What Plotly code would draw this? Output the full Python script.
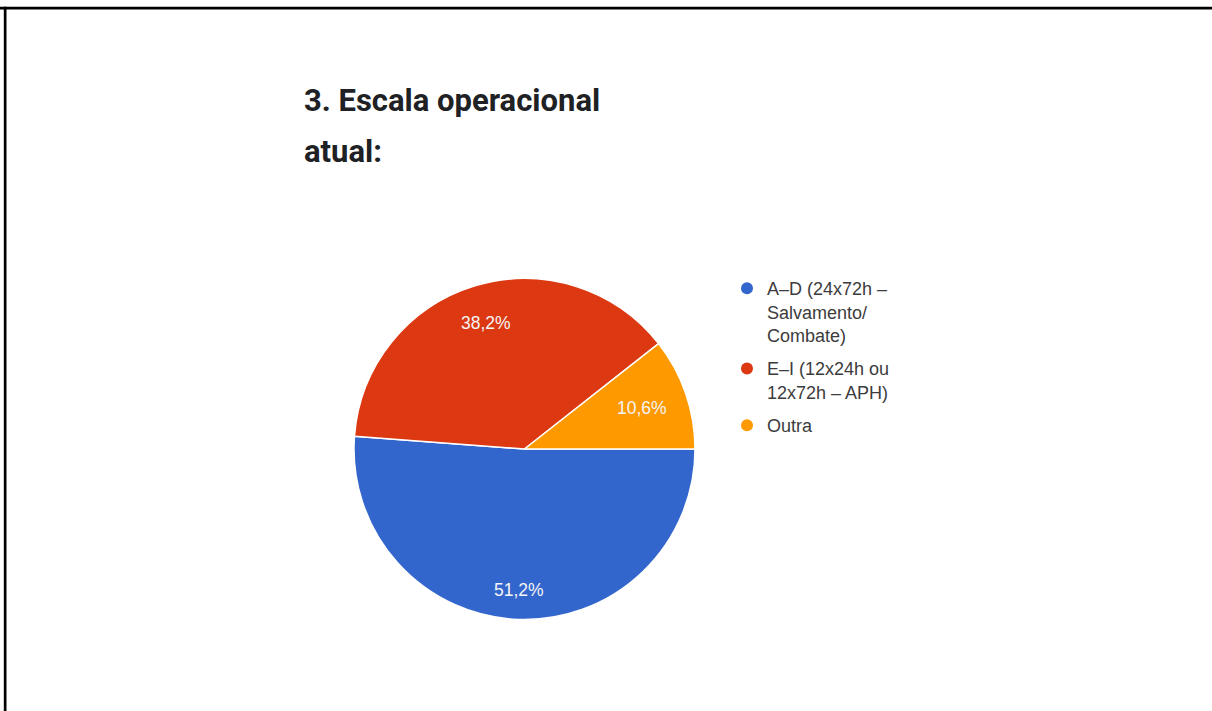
import math
import plotly.graph_objects as go

# Survey answers for question 3 (share of respondents, %)
categories = [
    "A–D (24x72h –<br>Salvamento/<br>Combate)",
    "E–I (12x24h ou<br>12x72h – APH)",
    "Outra",
]
shares = [51.2, 38.2, 10.6]
colors = ["#3366CC", "#DC3912", "#FF9900"]

title_lines = ["3. Escala operacional", "atual:"]

W, H = 1212, 711

# Pie geometry in pixels
CX, CY, R = 524.5, 449.0, 170.5
# Radial position of each percentage label, as a fraction of the radius
label_radius = [0.83, 0.77, 0.73]

fig = go.Figure()

fig.add_trace(go.Pie(
    labels=categories,
    values=shares,
    marker=dict(colors=colors, line=dict(color="white", width=1.5)),
    sort=False,
    direction="clockwise",
    rotation=90,
    textinfo="none",
    showlegend=False,
    hoverinfo="label+percent",
    domain=dict(x=[(CX - R) / W, (CX + R) / W],
                y=[1 - (CY + R) / H, 1 - (CY - R) / H]),
))

# Percentage labels placed along each slice's bisector
total = sum(shares)
start = 0.0  # degrees clockwise from 3 o'clock
for v, rf in zip(shares, label_radius):
    sweep = 360.0 * v / total
    mid = math.radians(start + sweep / 2)
    px = CX + rf * R * math.cos(mid)
    py = CY + rf * R * math.sin(mid)
    fig.add_annotation(
        x=px / W, y=1 - py / H, xref="paper", yref="paper",
        xanchor="center", yanchor="middle", showarrow=False,
        text=f"{100 * v / total:.1f}%".replace(".", ","),
        font=dict(family="Arial, Liberation Sans, sans-serif", size=17.5, color="#f4f4f4"),
    )
    start += sweep

# Legend entries with round markers
for name, col in zip(categories, colors):
    fig.add_trace(go.Scatter(
        x=[None], y=[None], mode="markers", name=name, legendgroup=name,
        marker=dict(symbol="circle", size=18, color=col),
        showlegend=True, hoverinfo="skip",
    ))

# Two-line heading
for i, line in enumerate(title_lines):
    fig.add_annotation(
        x=302 / W, y=1 - (101 + i * 50) / H, xref="paper", yref="paper",
        xanchor="left", yanchor="middle", showarrow=False,
        text=f"<b>{line}</b>",
        font=dict(family="Roboto, Arial, sans-serif", size=31, color="#202124"),
    )

# Frame bars along the top and left edges
fig.add_shape(type="rect", xref="paper", yref="paper",
              x0=0, x1=1, y0=1 - 9.5 / H, y1=1 - 6.8 / H,
              fillcolor="black", line=dict(width=0))
fig.add_shape(type="rect", xref="paper", yref="paper",
              x0=3.8 / W, x1=6.5 / W, y0=0, y1=1 - 6.8 / H,
              fillcolor="black", line=dict(width=0))

fig.update_layout(
    width=W, height=H,
    margin=dict(l=0, r=0, t=0, b=0),
    paper_bgcolor="white", plot_bgcolor="rgba(0,0,0,0)",
    xaxis=dict(visible=False, domain=[0.3, 0.31]),
    yaxis=dict(visible=False, domain=[0.02, 0.03]),
    legend=dict(
        x=727 / W, y=1 - 270 / H, xanchor="left", yanchor="top",
        font=dict(family="Arial, Liberation Sans, sans-serif", size=18, color="#3c3c3c"),
        valign="top", tracegroupgap=7, itemsizing="constant",
        bgcolor="rgba(0,0,0,0)",
    ),
)

fig.write_html("out.html", config={"displayModeBar": False})
